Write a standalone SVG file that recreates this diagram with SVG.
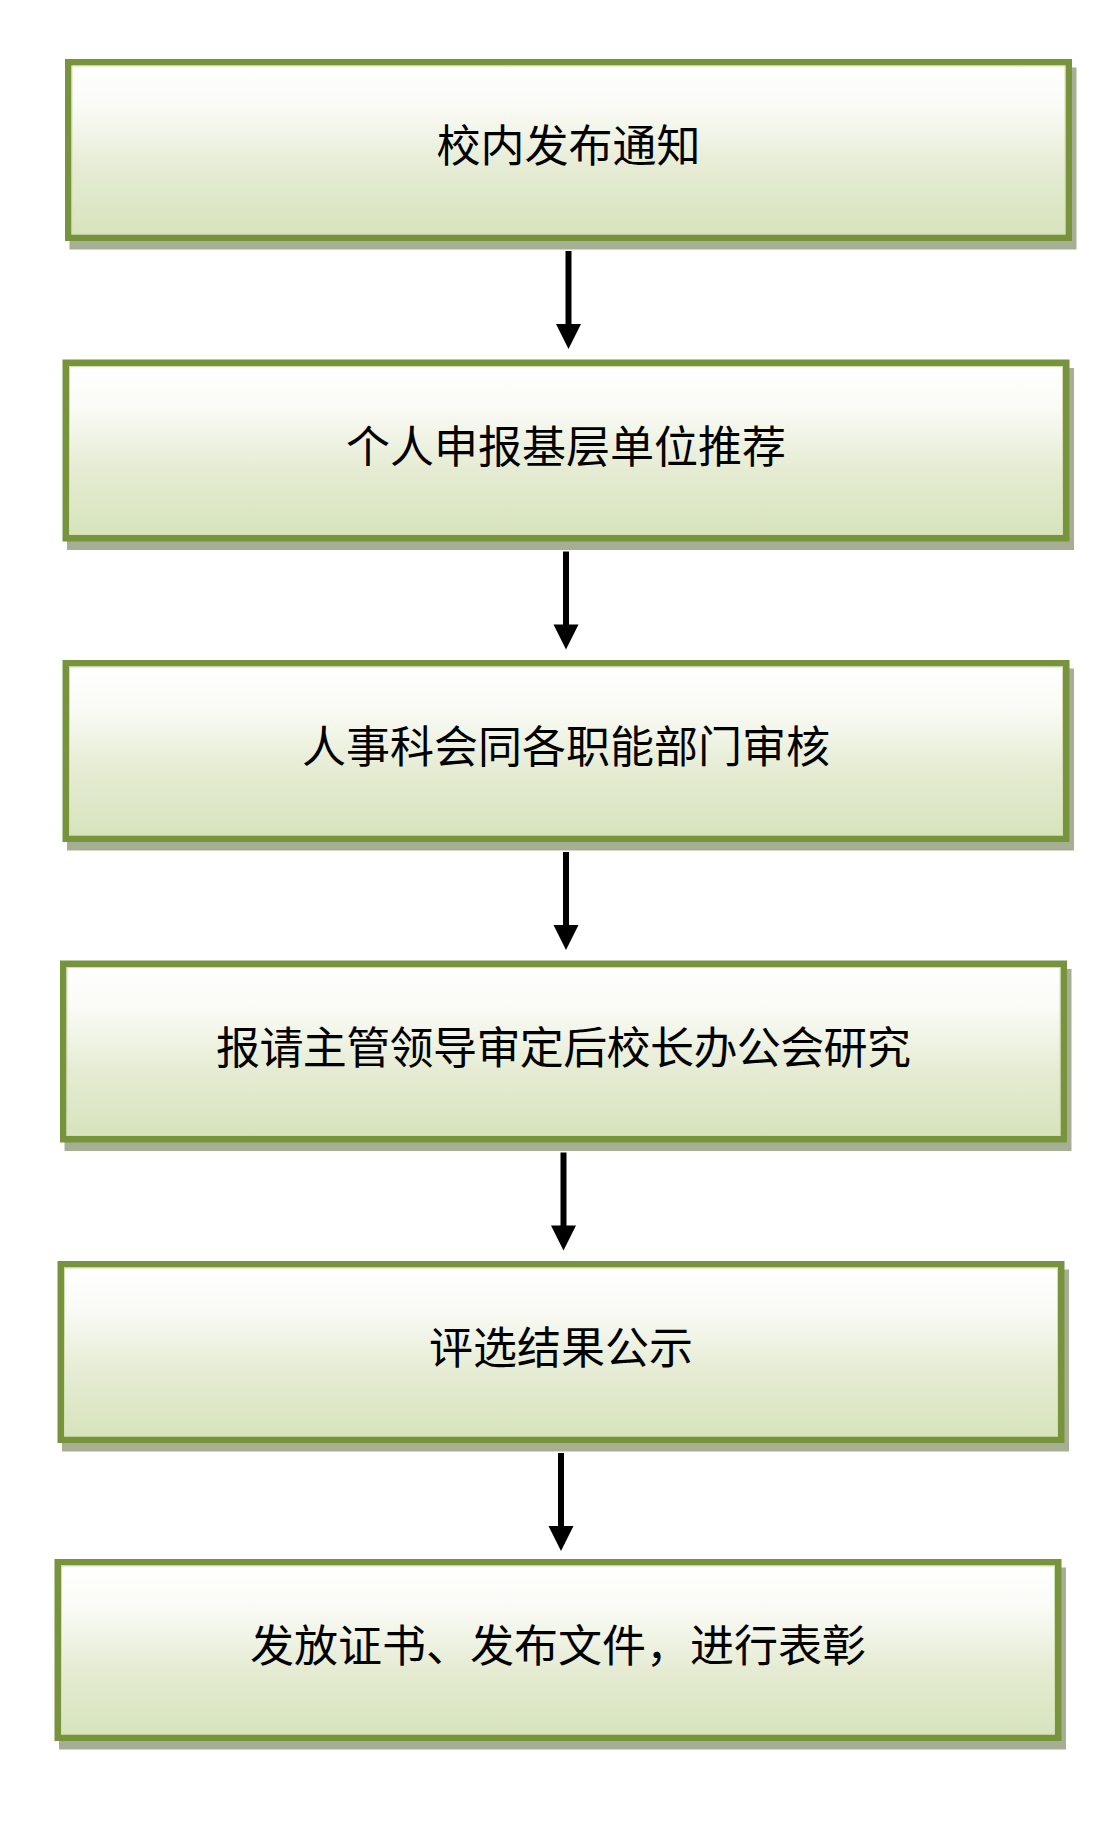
<svg xmlns="http://www.w3.org/2000/svg" width="1104" height="1835" viewBox="0 0 1104 1835">
<style>
.shadow{fill:#A6AF93;}
.box{fill:url(#g);stroke:#77933C;stroke-width:6.5;}
.inner{fill:none;stroke:#D2DFB4;stroke-width:1;}
.lbl{font-family:"Noto Sans CJK SC","Noto Sans CJK TC",sans-serif;font-size:44px;fill:#000;text-anchor:middle;}
.conn line{stroke:#000;stroke-width:6;}
.conn polygon{fill:#000;}
</style>
<defs>
<linearGradient id="g" x1="0" y1="0" x2="0" y2="1">
<stop offset="0" stop-color="#FFFFFF"/>
<stop offset="0.25" stop-color="#FAFBF6"/>
<stop offset="0.6" stop-color="#E6ECD4"/>
<stop offset="1" stop-color="#D6E3BB"/>
</linearGradient>
</defs>
<rect width="1104" height="1835" fill="#FFFFFF"/>

<g id="n1">
<rect class="shadow" x="69.5" y="67.5" width="1007" height="182"/>
<rect class="box" x="68.25" y="62.25" width="1000.5" height="175.5"/>
<rect class="inner" x="72" y="66" width="993" height="168"/>
<text class="lbl" x="568.5" y="162">校内发布通知</text>
</g>

<g id="n2">
<rect class="shadow" x="67" y="368" width="1007" height="182"/>
<rect class="box" x="65.75" y="362.75" width="1000.5" height="175.5"/>
<rect class="inner" x="69.5" y="366.5" width="993" height="168"/>
<text class="lbl" x="566" y="462.5">个人申报基层单位推荐</text>
</g>

<g id="n3">
<rect class="shadow" x="67" y="668.5" width="1007" height="182"/>
<rect class="box" x="65.75" y="663.25" width="1000.5" height="175.5"/>
<rect class="inner" x="69.5" y="667" width="993" height="168"/>
<text class="lbl" x="566" y="763">人事科会同各职能部门审核</text>
</g>

<g id="n4">
<rect class="shadow" x="64.5" y="969" width="1007" height="182"/>
<rect class="box" x="63.25" y="963.75" width="1000.5" height="175.5"/>
<rect class="inner" x="67" y="967.5" width="993" height="168"/>
<text class="lbl" x="563.5" y="1063.5" textLength="695" lengthAdjust="spacing">报请主管领导审定后校长办公会研究</text>
</g>

<g id="n5">
<rect class="shadow" x="62" y="1269.5" width="1007" height="182"/>
<rect class="box" x="60.75" y="1264.25" width="1000.5" height="175.5"/>
<rect class="inner" x="64.5" y="1268" width="993" height="168"/>
<text class="lbl" x="561" y="1364">评选结果公示</text>
</g>

<g id="n6">
<rect class="shadow" x="59" y="1567.5" width="1007" height="182"/>
<rect class="box" x="57.75" y="1562.25" width="1000.5" height="175.5"/>
<rect class="inner" x="61.5" y="1566" width="993" height="168"/>
<text class="lbl" x="558" y="1662">发放证书、发布文件，进行表彰</text>
</g>

<g id="connectors" class="conn">
<line x1="568.5" y1="251" x2="568.5" y2="326"/>
<polygon points="556,324 581,324 568.5,349"/>
<line x1="566" y1="551.5" x2="566" y2="626.5"/>
<polygon points="553.5,624.5 578.5,624.5 566,649.5"/>
<line x1="566" y1="852" x2="566" y2="927"/>
<polygon points="553.5,925 578.5,925 566,950"/>
<line x1="563.5" y1="1152.5" x2="563.5" y2="1227.5"/>
<polygon points="551,1225.5 576,1225.5 563.5,1250.5"/>
<line x1="561" y1="1453" x2="561" y2="1528"/>
<polygon points="548.5,1526 573.5,1526 561,1551"/>
</g>
</svg>
